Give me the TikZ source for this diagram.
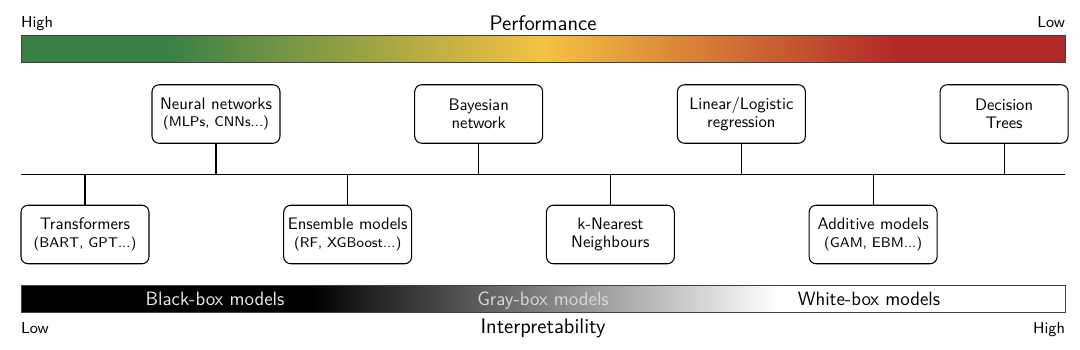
\documentclass[tikz,border=0pt]{standalone}
\usepackage{xcolor}
\usepackage{tikz}
\usetikzlibrary{positioning, calc}
\renewcommand{\familydefault}{\sfdefault}

\definecolor{perfgreen}{RGB}{58,128,70}
\definecolor{perfyellow}{RGB}{244,194,66}
\definecolor{perfred}{RGB}{177,40,40}
\pgfdeclarehorizontalshading{perfshade}{100bp}{color(0bp)=(perfgreen); color(32bp)=(perfgreen); color(50bp)=(perfyellow); color(67bp)=(perfred); color(100bp)=(perfred)}
\pgfdeclarehorizontalshading{interpshade}{100bp}{color(0bp)=(black); color(38.8bp)=(black); color(61.3bp)=(white); color(100bp)=(white)}
\newcommand{\subtxt}[1]{{\fontsize{8}{9}\selectfont #1}}

\begin{document}
\begin{tikzpicture}[
    x=0.02cm, y=-0.02cm,
    node distance=2.674cm,
    bar/.style={draw=black!75, thin, minimum width=20.88cm, minimum height=0.54cm, inner sep=0pt},
    mbox/.style={draw, rounded corners=4pt, minimum width=2.56cm, minimum height=1.17cm, align=center, font=\fontsize{9.5}{10}\selectfont, semithick, inner sep=1pt},
    spine/.style={thick},
    stem/.style={semithick},
    endlbl/.style={font=\small, inner sep=0pt},
    axlbl/.style={font=\large, inner sep=0pt},
    bartxt/.style={font=\fontsize{11}{13}\selectfont, inner sep=0pt, anchor=base},
]
\useasboundingbox (0,0) rectangle (1080,349);

% performance scale
\node[bar, shade, shading=perfshade] (perf) at (543,48.5) {};
\node[endlbl, anchor=base west] (perfhi) at ($(perf.north west)+(0,-7)$) {High};
\node[endlbl, anchor=base east] (perflo) at ($(perf.north east)+(0,-7)$) {Low};
\node[axlbl, anchor=base] (perftitle) at ($(perf.north)+(0,-4)$) {Performance};

% models
\node[mbox] (nn) at (216,114) {Neural networks\\\subtxt{(MLPs, CNNs...)}};
\node[mbox, right=of nn] (bn) {Bayesian\\network};
\node[mbox, right=of bn] (lr) {Linear/Logistic\\regression};
\node[mbox, right=of lr] (dt) {Decision\\Trees};

\node[mbox] (tf) at (85,234.5) {Transformers\\\subtxt{(BART, GPT...)}};
\node[mbox, right=of tf] (em) {Ensemble models\\\subtxt{(RF, XGBoost...)}};
\node[mbox, right=of em] (knn) {k-Nearest\\Neighbours};
\node[mbox, right=of knn] (am) {Additive models\\\subtxt{(GAM, EBM...)}};

\coordinate (sl) at (21,174.5);
\coordinate (sr) at (1065,174.5);
\draw[spine] (sl) -- (sr);

\draw[stem] (nn.south) -- (nn.south |- sl);
\draw[stem] (bn.south) -- (bn.south |- sl);
\draw[stem] (lr.south) -- (lr.south |- sl);
\draw[stem] (dt.south) -- (dt.south |- sl);
\draw[stem] (tf.north) -- (tf.north |- sl);
\draw[stem] (em.north) -- (em.north |- sl);
\draw[stem] (knn.north) -- (knn.north |- sl);
\draw[stem] (am.north) -- (am.north |- sl);

% interpretability scale
\node[bar, shade, shading=interpshade] (interp) at (543,298.5) {};
\node[bartxt, text=black!8] (black) at (215,305) {Black-box models};
\node[bartxt, text=black!15] (gray) at (543,305) {Gray-box models};
\node[bartxt, text=black] (white) at (869,305) {White-box models};
\node[endlbl, anchor=base west] (interplo) at ($(interp.south west)+(0,21)$) {Low};
\node[endlbl, anchor=base east] (interphi) at ($(interp.south east)+(0,21)$) {High};
\node[axlbl, anchor=base] (interptitle) at ($(interp.south)+(0,21)$) {Interpretability};
\end{tikzpicture}
\end{document}
